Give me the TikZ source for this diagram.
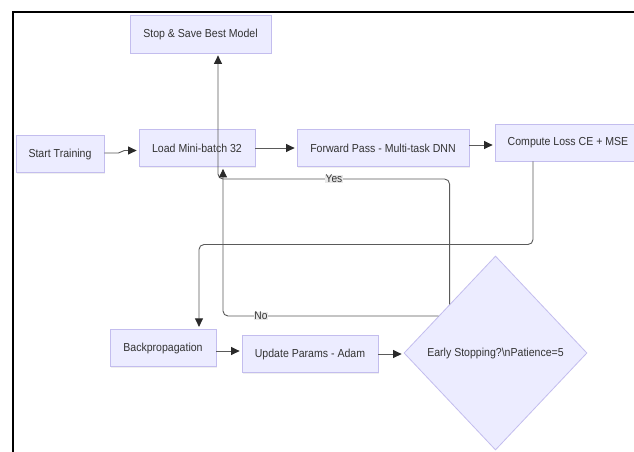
\documentclass[tikz,border=0pt]{standalone}
\usepackage{fontspec}
\setmainfont{Liberation Sans}[FakeStretch=0.91]
\usetikzlibrary{arrows.meta,shapes.geometric,calc,shadows}
\definecolor{boxfill}{HTML}{ECECFF}
\definecolor{boxline}{HTML}{C3BDEE}
\definecolor{edgec}{HTML}{5A5A5A}
\definecolor{tipc}{HTML}{2A2A2A}
\definecolor{txt}{HTML}{333333}
\definecolor{lblbg}{HTML}{E8E8E8}
\begin{document}
\begin{tikzpicture}[x=1pt,y=-1pt,
  every node/.style={font=\fontsize{11.6}{13.5}\selectfont, text=txt},
  box/.style={draw=boxline, fill=boxfill, line width=0.8pt, inner sep=0pt,
    drop shadow={opacity=0.12, shadow xshift=0.6pt, shadow yshift=-1.2pt}},
  dia/.style={diamond, draw=boxline, fill=boxfill, line width=0.8pt, inner sep=0pt,
    minimum width=183pt, minimum height=194pt},
  arr/.style={draw=edgec, line width=0.9pt, -{Triangle[length=8.5pt,width=8pt,color=tipc]}, shorten >=2pt},
  lbl/.style={fill=lblbg, inner sep=0.5pt, font=\fontsize{11.2}{13}\selectfont}
]
\useasboundingbox (0,0) rectangle (634,451);
\clip (0,0) rectangle (634,451);
\fill[white] (0,0) rectangle (634,451);

% frame
\draw[line width=2.5pt] (13,470) |- (650,12);

% nodes
\node[box, minimum width=141pt, minimum height=38pt] (stop) at (200.5,34) {Stop \& Save Best Model};
\node[box, minimum width=88pt, minimum height=37pt] (start) at (60,154) {Start Training};
\node[box, minimum width=116pt, minimum height=37pt] (load) at (197,148) {Load Mini-batch 32};
\node[box, minimum width=172pt, minimum height=37pt] (fwd) at (383,148) {Forward Pass - Multi-task DNN};
\node[box, minimum width=146pt, minimum height=37pt] (loss) at (568,142.5) {Compute Loss CE + MSE};
\node[box, minimum width=106pt, minimum height=37.5pt] (back) at (163,348) {Backpropagation};
\node[box, minimum width=136pt, minimum height=37.5pt] (upd) at (310,354) {Update Params - Adam};
\node[dia] (es) at (495.5,353) {Early Stopping?\textbackslash nPatience=5};

% waypoints
\coordinate (c1) at (199,244.5);
\coordinate (c2) at (218,179);

% edges
\draw[arr] ([yshift=1pt]start.east) -- ++(14,0) to[out=0,in=180] ++(6,-2.5) -- ([yshift=-2.5pt]load.west);
\draw[arr] (load) -- (fwd);
\draw[arr] ([yshift=3pt]fwd.east) -- ([yshift=-2.5pt]loss.west);
\draw[arr, rounded corners=5pt] ([xshift=-35pt]loss.south) |- (c1) -- ([xshift=36pt]back.north);
\draw[arr] ([yshift=-3pt]back.east) -- ([yshift=3pt]upd.west);
\draw[arr] (upd.east) -- (upd.east -| es.west);
\draw[arr, rounded corners=5pt] (es.north west) |- (c2) -- ([xshift=17.5pt]stop.south);
\draw[arr, rounded corners=5pt] ($(es.west)!0.38!(es.north)$) -| ([xshift=26pt]load.south);

% labels
\node[lbl] (yes) at (334,179) {Yes};
\node[lbl] (no) at (261,316) {No};
\end{tikzpicture}
\end{document}
